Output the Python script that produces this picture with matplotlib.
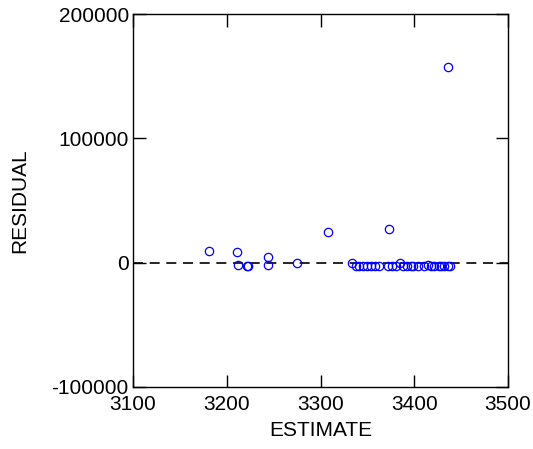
import matplotlib
matplotlib.use("Agg")
import matplotlib.pyplot as plt

plt.rcParams["font.family"] = ["Liberation Sans", "DejaVu Sans"]
plt.rcParams["axes.unicode_minus"] = False

ESTIMATE = [
    3181, 3211, 3212, 3222, 3223, 3244, 3244, 3275, 3308, 3373, 3436,
    3334, 3338, 3341, 3345, 3350, 3354, 3358, 3362,
    3372, 3376, 3380, 3385, 3388, 3392, 3396, 3399, 3404, 3410,
    3415, 3418, 3421, 3426, 3429, 3432, 3436, 3438,
]
RESIDUAL = [
    9400, 8600, -1900, -2700, -2900, 4600, -1900, -500, 25000, 27100, 157400,
    -500, -2500, -3000, -3000, -3000, -3000, -2800, -2500,
    -3000, -3000, -2800, -500, -2500, -3000, -3000, -2800, -3000, -2800,
    -1500, -2500, -3000, -2500, -3000, -2500, -3000, -2800,
]
X_TICKS = [3100, 3200, 3300, 3400, 3500]
Y_TICKS = [-100000, 0, 100000, 200000]


def main():
    fig = plt.figure(figsize=(5.33, 4.49), dpi=100)
    ax = fig.add_axes([133 / 533, 62 / 449, 375 / 533, 373 / 449])

    ax.axhline(0, color="black", linestyle=(0, (6, 4)), linewidth=1.2)
    ax.plot(
        ESTIMATE,
        RESIDUAL,
        linestyle="none",
        marker="o",
        markersize=6,
        markerfacecolor="none",
        markeredgecolor="blue",
        markeredgewidth=0.9,
    )

    ax.set_xlim(3100, 3500)
    ax.set_ylim(-100000, 200000)
    ax.set_xticks(X_TICKS)
    ax.set_yticks(Y_TICKS)
    ax.set_xticklabels([str(v) for v in X_TICKS])
    ax.set_yticklabels([str(v) for v in Y_TICKS])
    ax.tick_params(
        direction="in",
        length=9,
        width=1,
        top=True,
        right=True,
        labelsize=15,
    )
    ax.tick_params(axis="x", pad=6)
    ax.tick_params(axis="y", pad=3)
    for lbl in ax.get_yticklabels():
        lbl.set_verticalalignment("center_baseline")
    for spine in ax.spines.values():
        spine.set_linewidth(1)

    ax.set_xlabel("ESTIMATE", fontsize=15, labelpad=5)
    ax.set_ylabel("RESIDUAL", fontsize=15, labelpad=16)

    fig.savefig("out.png", dpi=100)
    plt.close(fig)


if __name__ == "__main__":
    main()
